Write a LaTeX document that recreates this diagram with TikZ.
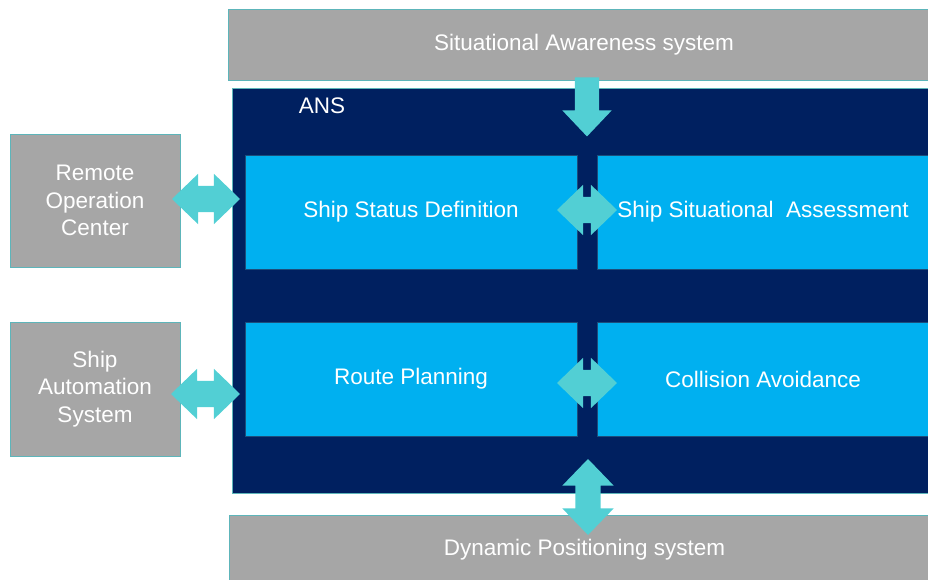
\documentclass[tikz,border=0pt]{standalone}
\usepackage{fontspec}
\setmainfont{Liberation Sans}
\usetikzlibrary{shapes.arrows}

\definecolor{boxgray}{HTML}{A6A6A6}
\definecolor{ansnavy}{HTML}{002060}
\definecolor{modblue}{HTML}{00B0F0}
\definecolor{linkteal}{HTML}{52CFD4}
\definecolor{edgeteal}{HTML}{5DB5BA}

\tikzset{
    labeltext/.style={text=white, font=\fontsize{22.5}{27.5}\selectfont, align=center},
    extbox/.style={labeltext, fill=boxgray, draw=edgeteal, line width=0.8pt, inner sep=0pt},
    modbox/.style={labeltext, fill=modblue, draw=ansnavy!70!edgeteal, line width=0.6pt, inner sep=0pt,
        minimum width=332pt, minimum height=114pt},
    twoway/.style={double arrow, fill=linkteal, inner sep=0pt, text height=26pt, text depth=0pt,
        double arrow head extend=12pt, double arrow tip angle=88},
    oneway/.style={single arrow, fill=linkteal, inner sep=0pt, text height=24pt, text depth=0pt,
        single arrow head extend=12.5pt, single arrow tip angle=87}
}

\begin{document}
\begin{tikzpicture}[x=1pt, y=-1pt]
        \useasboundingbox (0,0) rectangle (928,580);

        % outer systems
        \node[extbox, minimum width=712pt, minimum height=71pt] (sa) at (584,44.5) {Situational Awareness system};
        \node[extbox, minimum width=711pt, minimum height=68pt] (dp) at (584.5,549.5) {Dynamic Positioning system};
        \node[extbox, minimum width=170pt, minimum height=133pt] (roc) at (95,200.5) {Remote\\Operation\\Center};
        \node[extbox, minimum width=170pt, minimum height=134pt] (sas) at (95,389) {Ship\\Automation\\System};

        % ANS and its modules
        \node[fill=ansnavy, draw=edgeteal, line width=0.6pt, minimum width=713pt, minimum height=405pt] (ans) at (588.5,290.5) {};
        \node[labeltext] (anslbl) at (322,106) {ANS};
        \node[modbox] (ssd) at (411,212) {Ship Status Definition};
        \node[modbox] (ssa) at (763,212) {Ship Situational~~Assessment};
        \node[modbox] (rp) at (411,379) {Route Planning};
        \node[modbox] (ca) at (763,379) {Collision Avoidance};

        % links
        \node[oneway, minimum height=59pt, rotate=-90] (saarrow) at (587,100.5) {};
        \node[twoway, minimum height=68pt] (rocarrow) at (206,199) {};
        \node[twoway, minimum height=69pt] (sasarrow) at (205.5,394) {};
        \node[twoway, minimum height=60pt] (toparrow) at (587,210) {};
        \node[twoway, minimum height=60pt] (botarrow) at (587,383) {};
        \node[twoway, minimum height=76pt, text height=25pt, double arrow head extend=13pt, rotate=90] (dparrow) at (588,497) {};
    \end{tikzpicture}
\end{document}
